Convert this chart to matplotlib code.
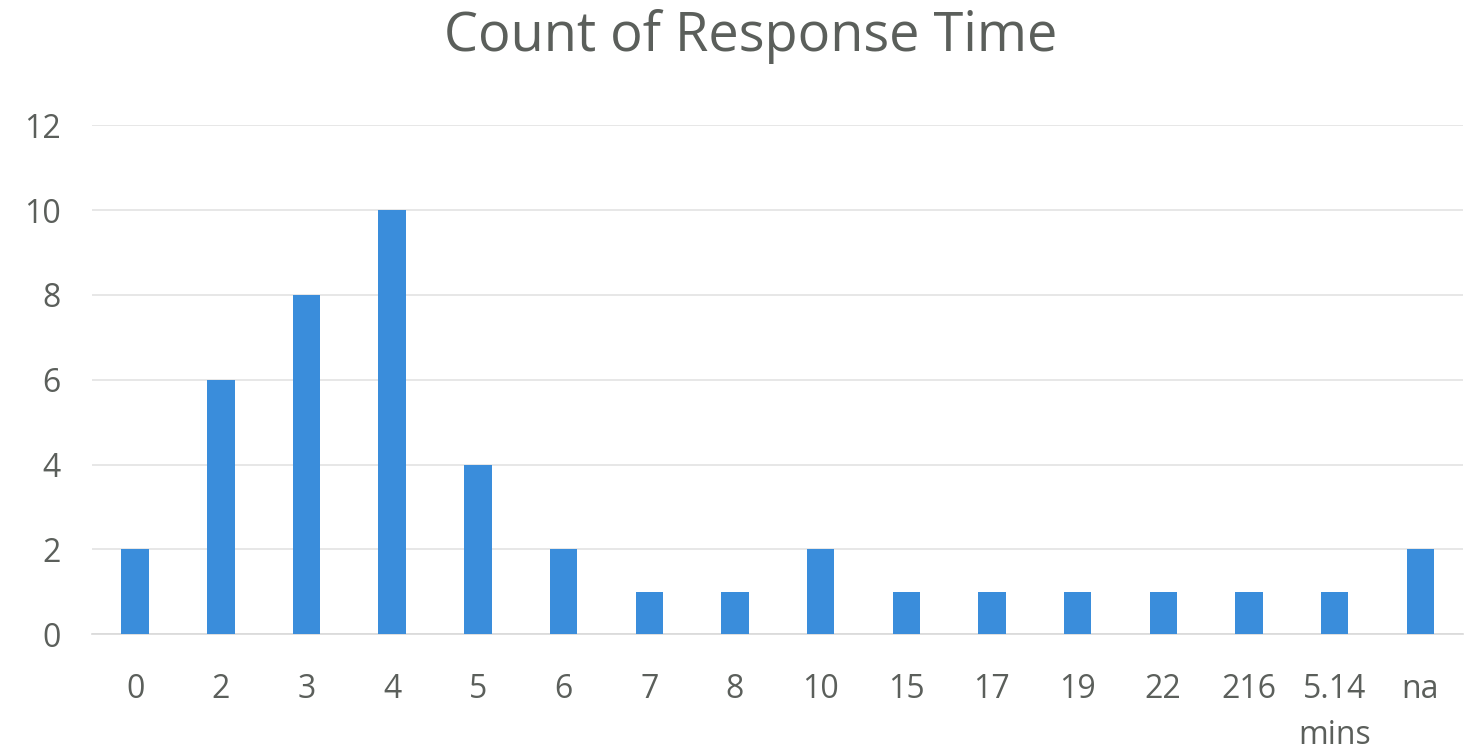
import matplotlib
matplotlib.use("Agg")
from matplotlib import pyplot as plt

categories = ["0", "2", "3", "4", "5", "6", "7", "8", "10", "15", "17", "19",
              "22", "216", "5.14\nmins", "na"]
counts = [2, 6, 8, 10, 4, 2, 1, 1, 2, 1, 1, 1, 1, 1, 1, 2]
y_ticks = [0, 2, 4, 6, 8, 10, 12]

bar_color = "#3a8ddb"
text_color = "#5b5f5b"
grid_color = "#e3e3e3"

plt.rcParams["font.family"] = ["Open Sans", "DejaVu Sans"]

fig = plt.figure(figsize=(14.66, 7.55), dpi=100)
ax = fig.add_axes([0.063, 0.160, 0.935, 0.674])

x = list(range(len(categories)))
ax.bar(x, counts, width=0.32, color=bar_color, zorder=3)

ax.set_xlim(-0.5, len(categories) - 0.5)
ax.set_ylim(0, 12)
ax.set_yticks(y_ticks)
ax.set_xticks(x)
ax.set_xticklabels(categories, linespacing=1.5, va="top")
ax.tick_params(axis="both", length=0, labelsize=23, colors=text_color)
ax.tick_params(axis="x", pad=28)
ax.tick_params(axis="y", pad=23)
for lbl in ax.get_yticklabels():
    lbl.set_horizontalalignment("right")

ax.grid(axis="y", color=grid_color, linewidth=1.2, zorder=0)
for side in ["top", "right", "left"]:
    ax.spines[side].set_visible(False)
ax.spines["bottom"].set_color("#d9d9d9")
ax.spines["bottom"].set_linewidth(1.2)

fig.text(0.512, 0.951, "Count of Response Time", ha="center", va="center",
         fontsize=39, color=text_color)

fig.savefig("out.png", dpi=100, facecolor="white")
